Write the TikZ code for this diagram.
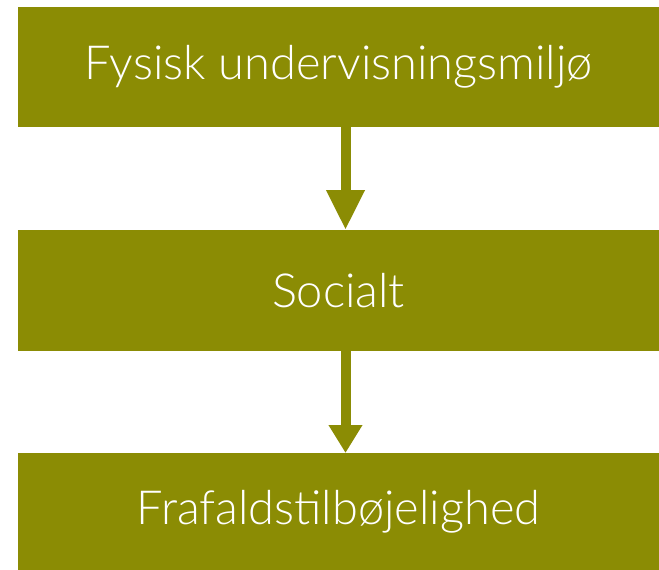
\documentclass[tikz,border=0pt]{standalone}
\usepackage{fontspec}
\setmainfont{Lato Light}
\usetikzlibrary{arrows.meta}
\definecolor{olive}{RGB}{139,140,4}
\tikzset{
  box/.style={fill=olive, text=white, inner sep=0pt, outer sep=0pt,
    minimum width=641pt, font=\fontsize{47}{56}\selectfont},
  flow/.style={draw=olive, line width=10pt}
}
\begin{document}
\begin{tikzpicture}[x=1pt,y=-1pt]
  \useasboundingbox (0,0) rectangle (659,570);
  \node[box, minimum height=120pt] (fysisk) at (338.5,67) {Fysisk undervisningsmiljø};
  \node[box, minimum height=121pt] (socialt) at (338.5,290.5) {Socialt};
  \node[box, minimum height=117pt] (frafald) at (338.5,511.5) {Frafaldstilbøjelighed};
  \coordinate (axis) at (345.5,0);
  \begin{scope}[flow]
    \draw[-{Triangle[width=36pt,length=40pt]}] (fysisk.south -| axis) to (socialt.north -| axis);
    \draw[-{Triangle[width=32pt,length=28pt]}] (socialt.south -| axis) to (frafald.north -| axis);
  \end{scope}
\end{tikzpicture}
\end{document}
